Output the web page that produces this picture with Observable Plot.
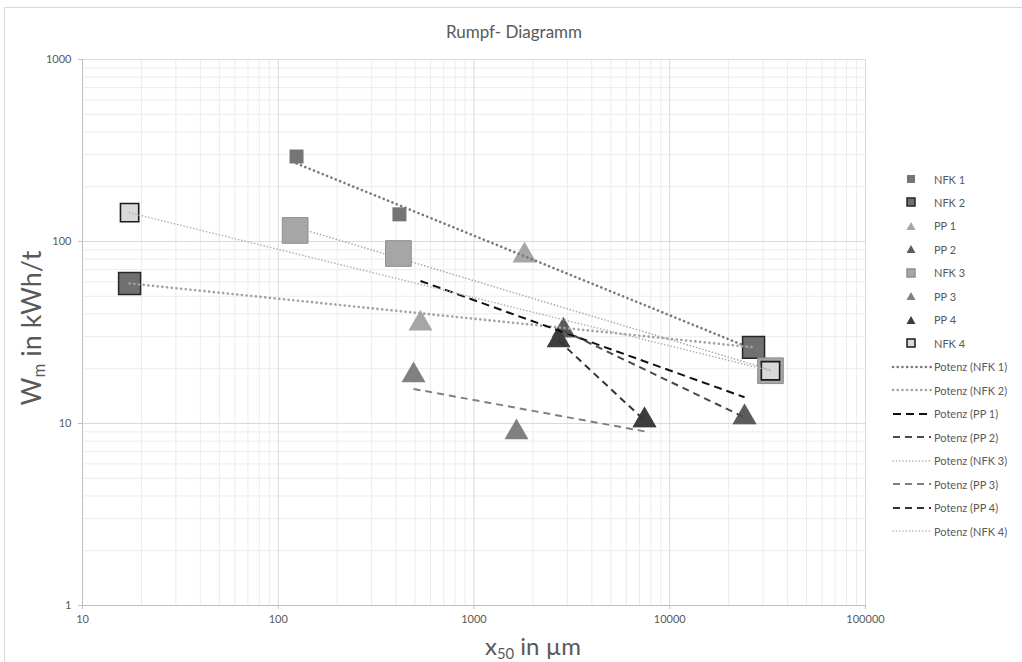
<!DOCTYPE html>
<html>
<head>
<meta charset="utf-8">
<script src="https://cdn.jsdelivr.net/npm/d3@7"></script>
<script src="https://cdn.jsdelivr.net/npm/@observablehq/plot@0.6"></script>
<style>
  body { margin: 0; background: #fff; font-family: Lato, "Open Sans", sans-serif; }
  #wrap { position: relative; width: 1022px; height: 662px; overflow: hidden; background: #fff; }
  #frame { position: absolute; left: 4px; top: 7px; width: 1100px; height: 700px; border: 1px solid #d9d9d9; }
  #chart { position: absolute; left: 0; top: 0; }
  .lbl { position: absolute; color: #595959; white-space: nowrap; }
  #title { left: 514px; top: 31px; transform: translate(-50%, -50%); font-size: 17px; }
  #ylab { left: 30px; top: 328px; transform: translate(-50%, -50%) rotate(-90deg); font-size: 27px; }
  #xlab { left: 533px; top: 646px; transform: translate(-50%, -50%); font-size: 24px; line-height: 24px; }
  sub { font-size: 62%; vertical-align: -0.25em; line-height: 0; }
  .leg { position: absolute; left: 891px; height: 16px; display: flex; align-items: center; font-size: 11px; color: #595959; white-space: nowrap; }
  .leg svg { width: 42px; height: 14px; margin-right: 1px; }
</style>
</head>
<body>
<div id="wrap">
  <div id="frame"></div>
  <div id="chart"></div>
  <div class="lbl" id="title">Rumpf- Diagramm</div>
  <div class="lbl" id="ylab">W<sub>m</sub> in kWh/t</div>
  <div class="lbl" id="xlab">x<sub>50</sub> in µm</div>
  <div id="legend"></div>
</div>
<script>
// ---- data ----
const seriesNames = ["NFK 1", "NFK 2", "PP 1", "PP 2", "NFK 3", "PP 3", "PP 4", "NFK 4"];
const nfk1X = [124, 416, 26800];   const nfk1Y = [293, 141, 26.2];
const nfk2X = [17.4, 26800];       const nfk2Y = [58.8, 26.2];
const pp1X  = [533, 1811, 24100];  const pp1Y  = [35.4, 83.8, 10.8];
const pp2X  = [2865, 24100];       const pp2Y  = [32.4, 10.8];
const nfk3X = [122, 411, 32700];   const nfk3Y = [115, 85.9, 19.5];
const pp3X  = [491, 1648, 7430];   const pp3Y  = [18.4, 8.93, 10.4];
const pp4X  = [2704, 7430];        const pp4Y  = [28.6, 10.4];
const nfk4X = [17.4, 32700];       const nfk4Y = [144, 19.5];
const xTicks = [10, 100, 1000, 10000, 100000];
const yTicks = [1, 10, 100, 1000];

// ---- styles ----
const styles = {
  "NFK 1": {sym: "square",   r: 7.9,  fill: "#757575", stroke: "#757575", sw: 0,
            line: "#7a7a7a", lw: 2.6, dash: "0.1 4.6"},
  "NFK 2": {sym: "square",   r: 12.4, fill: "#707070", stroke: "#262626", sw: 1.5,
            line: "#a3a3a3", lw: 2.6, dash: "0.1 4.6"},
  "PP 1":  {sym: "triangle", r: 8.9,  fill: "#a6a6a6", stroke: "#a6a6a6", sw: 0,
            line: "#111111", lw: 2, dash: "8 5"},
  "PP 2":  {sym: "triangle", r: 8.9,  fill: "#5c5c5c", stroke: "#5c5c5c", sw: 0,
            line: "#4a4a4a", lw: 2, dash: "7 5"},
  "NFK 3": {sym: "square",   r: 14.5, fill: "#a6a6a6", stroke: "#8f8f8f", sw: 1,
            line: "#ababab", lw: 1.6, dash: "0.1 3.2"},
  "PP 3":  {sym: "triangle", r: 8.9,  fill: "#808080", stroke: "#808080", sw: 0,
            line: "#808080", lw: 2, dash: "7 5"},
  "PP 4":  {sym: "triangle", r: 8.9,  fill: "#3d3d3d", stroke: "#3d3d3d", sw: 0,
            line: "#333333", lw: 2, dash: "7 5"},
  "NFK 4": {sym: "square",   r: 10.3, fill: "#d9d9d9", stroke: "#1a1a1a", sw: 1.6,
            line: "#b3b3b3", lw: 1.6, dash: "0.1 3.2"}
};
const seriesX = [nfk1X, nfk2X, pp1X, pp2X, nfk3X, pp3X, pp4X, nfk4X];
const seriesY = [nfk1Y, nfk2Y, pp1Y, pp2Y, nfk3Y, pp3Y, pp4Y, nfk4Y];

// power-law ("Potenz") trend fitted in log-log space, spanning the series x range
function powerFit(xs, ys) {
  const lx = xs.map(Math.log10), ly = ys.map(Math.log10);
  const mx = d3.mean(lx), my = d3.mean(ly);
  let sxy = 0, sxx = 0;
  lx.forEach((v, i) => { sxy += (v - mx) * (ly[i] - my); sxx += (v - mx) ** 2; });
  const b = sxy / sxx, a = my - b * mx;
  const [x0, x1] = d3.extent(xs);
  return [x0, x1].map(x => ({x, y: 10 ** (a + b * Math.log10(x))}));
}

const minorX = [], minorY = [];
xTicks.slice(0, -1).forEach(d => { for (let k = 2; k < 10; k++) minorX.push(d * k); });
yTicks.slice(0, -1).forEach(d => { for (let k = 2; k < 10; k++) minorY.push(d * k); });

const marks = [
  Plot.ruleX(minorX, {stroke: "#ececec"}),
  Plot.ruleY(minorY, {stroke: "#ececec"}),
  Plot.ruleX(xTicks.slice(1), {stroke: "#d9d9d9"}),
  Plot.ruleY(yTicks.slice(1), {stroke: "#d9d9d9"}),
  Plot.ruleX([10], {stroke: "#bfbfbf"}),
  Plot.ruleY([1], {stroke: "#bfbfbf"}),
  Plot.axisX({ticks: xTicks, tickFormat: d3.format("d"), tickSize: 4, tickPadding: 6,
              stroke: "#bfbfbf", fill: "#595959", fontSize: 11, label: null}),
  Plot.axisY({ticks: yTicks, tickFormat: d3.format("d"), tickSize: 4, tickPadding: 7,
              stroke: "#bfbfbf", fill: "#595959", fontSize: 11, label: null})
];
// markers first
seriesNames.forEach((name, i) => {
  const s = styles[name];
  const pts = seriesX[i].map((x, j) => ({x, y: seriesY[i][j]}));
  marks.push(Plot.dot(pts, {x: "x", y: "y", symbol: s.sym, r: s.r, fill: s.fill,
    stroke: s.sw ? s.stroke : "none", strokeWidth: s.sw}));
});
// trend lines on top
seriesNames.forEach((name, i) => {
  const s = styles[name];
  marks.push(Plot.line(powerFit(seriesX[i], seriesY[i]), {x: "x", y: "y", stroke: s.line,
    strokeWidth: s.lw, strokeDasharray: s.dash, strokeLinecap: s.dash.startsWith("0.1") ? "round" : "butt"}));
});

const chart = Plot.plot({
  width: 1022, height: 662,
  marginLeft: 82, marginRight: 157, marginTop: 59, marginBottom: 57,
  style: {background: "transparent", fontFamily: "Lato, 'Open Sans', sans-serif"},
  x: {type: "log", domain: [10, 100000]},
  y: {type: "log", domain: [1, 1000]},
  marks
});
document.getElementById("chart").appendChild(chart);

// ---- legend ----
const leg = document.getElementById("legend");
const items = [
  ...seriesNames.map(n => ({kind: "marker", name: n, label: n})),
  ...seriesNames.map(n => ({kind: "line", name: n, label: `Potenz (${n})`}))
];
items.forEach((it, i) => {
  const s = styles[it.name];
  const div = document.createElement("div");
  div.className = "leg";
  div.style.top = (171 + 23.47 * i) + "px";
  let g;
  if (it.kind === "marker") {
    if (s.sym === "square") {
      g = `<rect x="16" y="3" width="8" height="8" fill="${s.fill}" stroke="${s.sw ? s.stroke : s.fill}" stroke-width="${s.sw ? 1.5 : 0}"/>`;
    } else {
      g = `<path d="M20,3 L24.5,11 L15.5,11 Z" fill="${s.fill}"/>`;
    }
  } else {
    g = `<line x1="2" y1="7" x2="40" y2="7" stroke="${s.line}" stroke-width="${s.lw}" stroke-dasharray="${s.dash}" stroke-linecap="${s.dash.startsWith('0.1') ? 'round' : 'butt'}"/>`;
  }
  div.innerHTML = `<svg viewBox="0 0 42 14">${g}</svg><span>${it.label}</span>`;
  leg.appendChild(div);
});
</script>
</body>
</html>
